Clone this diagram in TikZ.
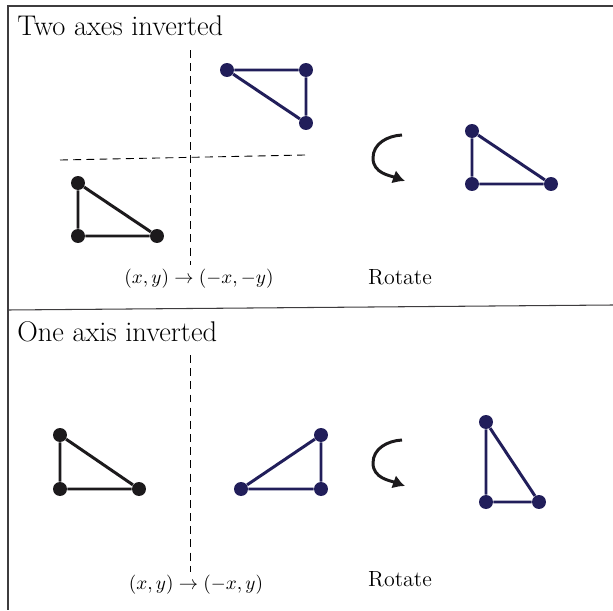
\documentclass[tikz,border=0pt]{standalone}
\usetikzlibrary{arrows.meta}
\definecolor{navy}{RGB}{33,30,90}
\definecolor{ink}{RGB}{28,26,28}
\begin{document}
\begin{tikzpicture}[x=0.02cm, y=0.02cm, >={Latex[length=0.24cm, width=0.28cm]},
    dot/.style={circle, fill, inner sep=0pt, minimum size=0.28cm},
    edge/.style={line width=1.7pt},
    axisline/.style={line width=0.5pt, dash pattern=on 4.5pt off 3pt},
    title/.style={anchor=base west, inner sep=0pt, font=\fontsize{16.2}{19}\selectfont},
    caption/.style={anchor=base, inner sep=0pt, font=\fontsize{10.6}{13}\selectfont},
    rotlabel/.style={anchor=base, inner sep=0pt, font=\fontsize{12.5}{15}\selectfont}]
    \useasboundingbox (0,0) rectangle (613,610);

    % 1. Frame and divider
    \draw[line width=0.6pt, ink!85] (613,604) -- (8,604) -- (8,0);
    \draw[line width=0.6pt, ink!85] (8,300) -- (613,305);

    % 2. Top panel: two axes inverted
    \node[title] (t1) at (17,575) {Two axes inverted};
    \coordinate (v1) at (190.5,560);
    \coordinate (v2) at (190.5,345);
    \coordinate (h1) at (60,450);
    \coordinate (h2) at (305,455);
    \draw[axisline] (v1) -- (v2);
    \draw[axisline] (h1) -- (h2);

    \node[dot, ink] (a1) at (78,427) {};
    \node[dot, ink] (a2) at (78,374) {};
    \node[dot, ink] (a3) at (157,374) {};
    \draw[edge, ink] (a1) -- (a2) -- (a3) -- (a1);

    \node[dot, navy] (b1) at (227,540) {};
    \node[dot, navy] (b2) at (306,540) {};
    \node[dot, navy] (b3) at (306,487) {};
    \draw[edge, navy] (b1) -- (b2) -- (b3) -- (b1);

    \coordinate (r1) at (402,475);
    \coordinate (r1l) at (373,452);
    \coordinate (r1e) at (405,429);
    \draw[edge, ink, ->] (r1) to[out=183, in=90] (r1l) to[out=-90, in=160] (r1e);

    \node[dot, navy] (c1) at (472,479) {};
    \node[dot, navy] (c2) at (472,426) {};
    \node[dot, navy] (c3) at (551,426) {};
    \draw[edge, navy] (c1) -- (c2) -- (c3) -- (c1);

    \node[caption] (m1) at (199,327) {$(x,y)\to(-x,-y)$};
    \node[rotlabel] (k1) at (400,326) {Rotate};

    % 3. Bottom panel: one axis inverted
    \node[title] (t2) at (17,269) {One axis inverted};
    \coordinate (v3) at (190.5,255);
    \coordinate (v4) at (190.5,38);
    \draw[axisline] (v3) -- (v4);

    \node[dot, ink] (d1) at (60,175) {};
    \node[dot, ink] (d2) at (60,121) {};
    \node[dot, ink] (d3) at (139,121) {};
    \draw[edge, ink] (d1) -- (d2) -- (d3) -- (d1);

    \node[dot, navy] (e1) at (241,121) {};
    \node[dot, navy] (e2) at (321,121) {};
    \node[dot, navy] (e3) at (321,175) {};
    \draw[edge, navy] (e1) -- (e2) -- (e3) -- (e1);

    \coordinate (r2) at (402,170);
    \coordinate (r2l) at (373,147);
    \coordinate (r2e) at (405,124);
    \draw[edge, ink, ->] (r2) to[out=183, in=90] (r2l) to[out=-90, in=160] (r2e);

    \node[dot, navy] (f1) at (486,188) {};
    \node[dot, navy] (f2) at (486,108) {};
    \node[dot, navy] (f3) at (539,108) {};
    \draw[edge, navy] (f1) -- (f2) -- (f3) -- (f1);

    \node[caption] (m2) at (196,21) {$(x,y)\to(-x,y)$};
    \node[rotlabel] (k2) at (400,24) {Rotate};
\end{tikzpicture}
\end{document}
